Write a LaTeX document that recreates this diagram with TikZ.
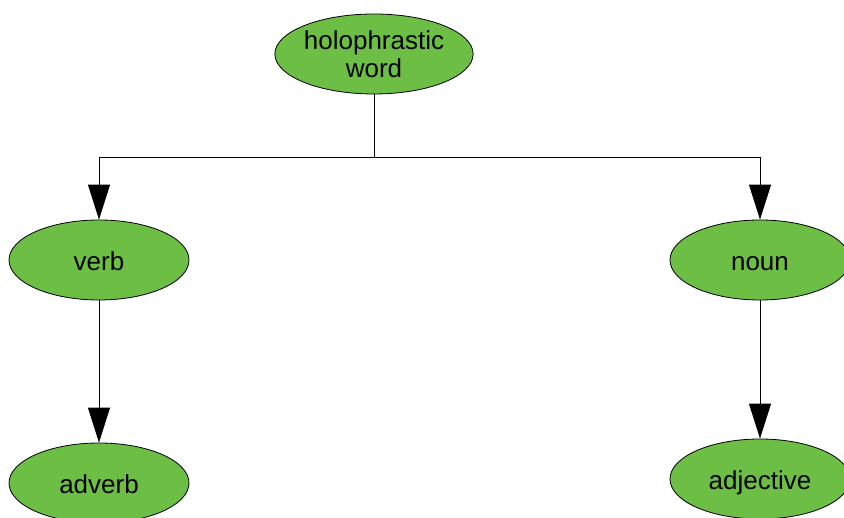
\documentclass[tikz,border=0pt]{standalone}
\usepackage{fontspec}
\setmainfont{Liberation Sans}
\usetikzlibrary{arrows.meta,shapes.geometric}
\definecolor{nodegreen}{HTML}{6DBE45}
\begin{document}
\begin{tikzpicture}[x=1pt,y=-1pt,
  wordnode/.style={ellipse,draw=black,line width=0.8pt,fill=nodegreen,
    minimum width=180pt,minimum height=80pt,inner sep=0pt,
    font=\fontsize{26}{28}\selectfont,align=center},
  oneline/.style={wordnode,text height=23pt,text depth=1pt},
  link/.style={draw=black,line width=0.9pt},
  arr/.style={link,-{Triangle[length=35pt,width=22pt]}}]
\useasboundingbox (0,0) rectangle (844,518);
\clip (0,0) rectangle (844,518);
\node[wordnode] (holo) at (374,54) {\raisebox{-3pt}{holophrastic}\\\raisebox{-3pt}{word}};
\node[oneline] (verb) at (99,260) {verb};
\node[oneline] (noun) at (760,260) {noun};
\node[oneline] (adverb) at (99,483) {adverb};
\node[oneline] (adj) at (760,479) {adjective};
\coordinate (mid) at (374,157);
\draw[link] (holo.south) -- (mid);
\draw[arr] (mid) -| (verb.north);
\draw[arr] (mid) -| (noun.north);
\draw[arr] (verb.south) -- (adverb.north);
\draw[arr] (noun.south) -- (adj.north);
\end{tikzpicture}
\end{document}
